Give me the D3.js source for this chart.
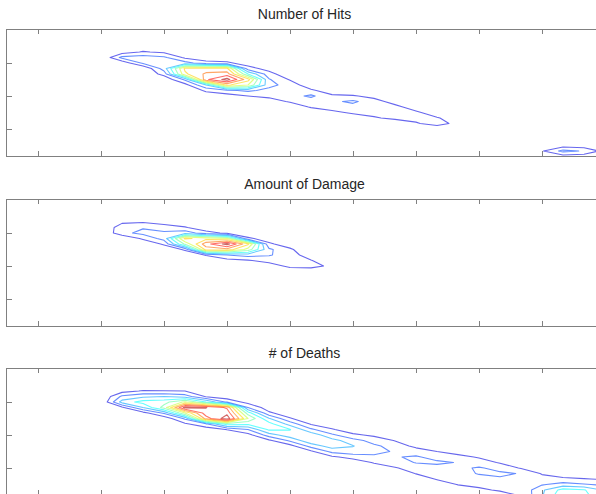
<!DOCTYPE html>
<html>
<head>
<meta charset="utf-8">
<script src="https://cdn.jsdelivr.net/npm/d3@7"></script>
<style>
  body { margin: 0; background: #fff; }
  svg { display: block; }
</style>
</head>
<body>
<svg id="chart" width="596" height="494"></svg>
<script>
// contour levels shared by all three panels
const levels = [10, 20, 30, 40, 50, 60, 70, 80, 90, 100];
const titles = ['Number of Hits', 'Amount of Damage', '# of Deaths'];
const xTicks = [1, 4, 7, 10, 13, 16, 19, 22, 25];
const yTicks = [6, 12, 18];

// grid values, stored column by column: [column, first row, values down the column]
const hitsColumns = [
  [5, 4, [5, 23, 3]],
  [6, 3, [2, 11, 25, 22]],
  [7, 4, [8, 22, 27, 25, 14, 2]],
  [8, 5, [8, 24, 72, 68, 22, 6]],
  [9, 5, [3, 14, 74, 82, 88, 30, 12, 3]],
  [10, 5, [3, 12, 72, 85, 104, 72, 18, 5]],
  [11, 6, [5, 14, 40, 74, 60, 22, 10, 2]],
  [12, 7, [6, 14, 21, 23, 17, 12, 6]],
  [13, 8, [2, 9, 16, 18, 16, 11, 3]],
  [14, 10, [3, 12, 22, 14, 11, 2]],
  [15, 11, [4, 12, 18, 15, 7]],
  [16, 11, [2, 11, 22, 16, 12, 3]],
  [17, 12, [7, 14, 15, 13, 9, 2]],
  [18, 13, [6, 13, 14, 12, 4]],
  [19, 14, [5, 12, 13, 9, 2]],
  [20, 15, [4, 11, 14, 3]],
  [21, 16, [4, 7]],
  [25, 22, [9]],
  [26, 21, [5, 23, 5]],
  [27, 21, [4, 19, 4]],
  [28, 21, [2, 6, 2]]
];

const damageColumns = [
  [5, 4, [8, 16, 17]],
  [6, 4, [9, 19, 23, 12]],
  [7, 4, [6, 15, 22, 24, 12]],
  [8, 4, [2, 11, 26, 72, 52, 12]],
  [9, 5, [3, 14, 66, 86, 74, 11]],
  [10, 6, [8, 60, 104, 76, 20, 6]],
  [11, 6, [2, 12, 72, 56, 24, 9]],
  [12, 7, [5, 12, 22, 21, 14, 4]],
  [13, 8, [4, 12, 15, 16, 13, 2]],
  [14, 10, [4, 10.5, 13, 4]],
  [15, 11, [3, 8, 2]]
];

const deathsColumns = [
  [5, 4, [6, 22, 34, 8]],
  [6, 4, [11, 28, 44, 30, 6]],
  [7, 4, [10.5, 30, 46, 54, 22, 3]],
  [8, 4, [10, 25, 62, 104, 60, 22, 8]],
  [9, 4, [2, 9, 40, 100.5, 96, 85, 18, 4]],
  [10, 5, [4, 18, 88, 97, 106, 45, 10.5, 2]],
  [11, 6, [6, 20, 45, 60, 42, 20, 6]],
  [12, 7, [4, 12, 31, 44, 42, 25, 8]],
  [13, 8, [3, 11, 26, 40.5, 36, 22, 6]],
  [14, 9, [2, 9, 22, 37, 38, 24, 8]],
  [15, 10, [4, 11, 22, 34, 35, 23, 8]],
  [16, 11, [4, 12, 24, 30.5, 26, 14, 3]],
  [17, 12, [8, 16, 22, 23, 18, 11, 3]],
  [18, 12, [4, 9.5, 16, 19, 19.5, 16, 9, 2]],
  [19, 14, [7, 16, 21, 20.5, 15, 10.5, 3]],
  [20, 15, [10, 17, 21.5, 17, 13, 11, 3]],
  [21, 15, [6, 13, 19.6, 18, 15, 12, 10.5, 3]],
  [22, 16, [9, 15, 21, 21, 15, 12, 8.5, 2]],
  [23, 17, [9, 17, 21.5, 19, 14, 11, 6]],
  [24, 18, [9, 19.5, 19, 14, 12, 10.5, 5]],
  [25, 19, [9, 14, 19, 28, 29, 25]],
  [26, 19, [5, 12, 24, 44, 48, 40]],
  [27, 19, [3, 10.5, 21, 41, 44, 40]],
  [28, 20, [9, 18, 28, 29, 28]]
];

const NX = 29, NY = 26;
const panels = [hitsColumns, damageColumns, deathsColumns];
const tops = [29, 199, 368];
const H = 127;

function toGrid(cols) {
  const v = new Array(NX * NY).fill(0);
  cols.forEach(([c, r0, vals]) => vals.forEach((d, k) => { v[(r0 + k) * NX + c] = d; }));
  return v;
}

// matlab jet
function jet(t) {
  const c = x => Math.max(0, Math.min(1, x));
  const r = c(1.5 - Math.abs(4 * t - 3)), g = c(1.5 - Math.abs(4 * t - 2)), b = c(1.5 - Math.abs(4 * t - 1));
  return d3.rgb(r * 255, g * 255, b * 255).toString();
}

const svg = d3.select('#chart');
const x = d3.scaleLinear().domain([-0.524, 27.905]).range([6, 603]);

panels.forEach((cols, p) => {
  const top = tops[p];
  const y = d3.scaleLinear().domain([-0.182, 22.909]).range([top, top + H]);
  const values = toGrid(cols);
  // colour limits run from the grid minimum to its maximum, like matlab's clim
  const color = d3.scaleLinear().domain([0, d3.max(values)]).range([0, 1]);
  const g = svg.append('g');

  g.append('clipPath').attr('id', 'clip' + p)
    .append('rect').attr('x', x.range()[0]).attr('y', top).attr('width', x.range()[1] - x.range()[0]).attr('height', H);

  const contours = d3.contours().size([NX, NY]).thresholds(levels)(values);
  const path = d3.geoPath(d3.geoTransform({
    point(px, py) { this.stream.point(x(px - 0.5), y(py - 0.5)); }
  }));

  g.append('g').attr('clip-path', `url(#clip${p})`)
    .selectAll('path').data(contours).join('path')
    .attr('d', path)
    .attr('fill', 'none')
    .attr('stroke', d => jet(color(d.value)))
    .attr('stroke-width', 1.1)
    .attr('stroke-opacity', 0.6)
    .attr('stroke-linejoin', 'round');

  // box with inward ticks
  const tick = (ax, tr) => g.append('g').attr('transform', tr).call(ax)
    .call(s => s.select('.domain').remove())
    .call(s => s.selectAll('line').attr('stroke', '#808080'));
  tick(d3.axisBottom(x).tickValues(xTicks).tickSize(-5).tickFormat(''), `translate(0,${top + H})`);
  tick(d3.axisTop(x).tickValues(xTicks).tickSize(-5).tickFormat(''), `translate(0,${top})`);
  tick(d3.axisLeft(y).tickValues(yTicks).tickSize(-6).tickFormat(''), `translate(${x.range()[0]},0)`);
  tick(d3.axisRight(y).tickValues(yTicks).tickSize(-6).tickFormat(''), `translate(${x.range()[1]},0)`);

  g.append('rect')
    .attr('x', x.range()[0] + 0.5).attr('y', top + 0.5)
    .attr('width', x.range()[1] - x.range()[0]).attr('height', H)
    .attr('fill', 'none').attr('stroke', '#808080').attr('stroke-width', 1);

  g.append('text')
    .attr('x', (x.range()[0] + x.range()[1]) / 2).attr('y', top - 10)
    .attr('text-anchor', 'middle')
    .style('font-family', 'Liberation Sans, Arial, sans-serif')
    .style('font-size', '14px')
    .style('fill', '#262626')
    .text(titles[p]);
});
</script>
</body>
</html>
